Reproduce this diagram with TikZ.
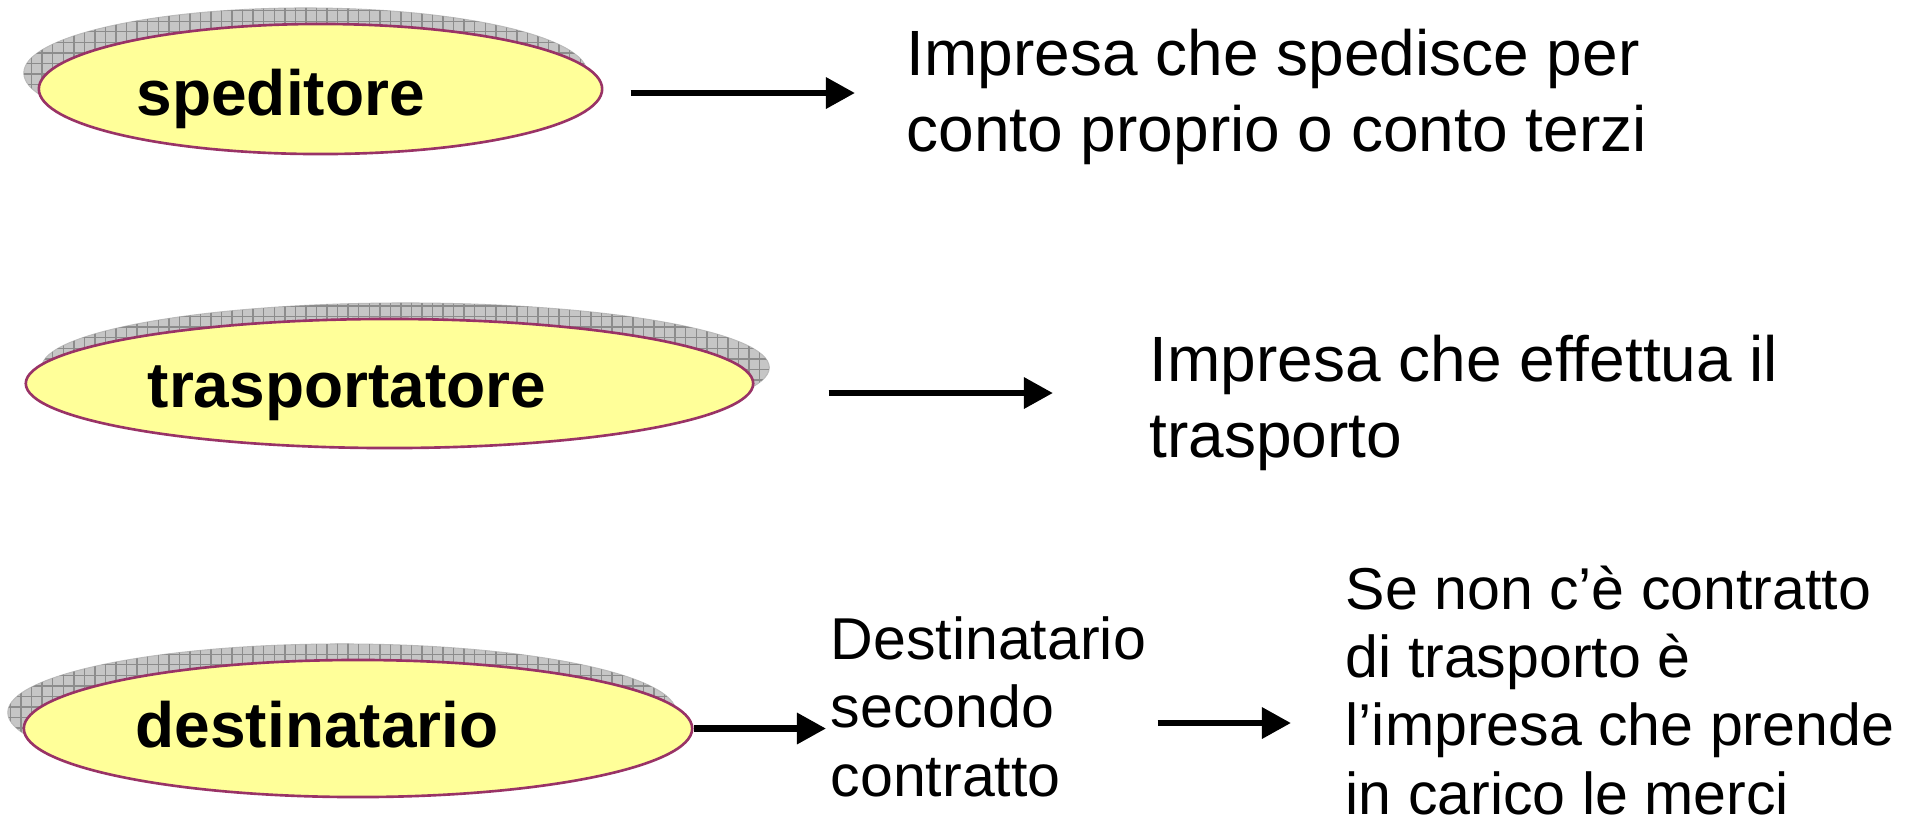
\documentclass[tikz,border=0pt]{standalone}
\usepackage{fontspec}
\setmainfont{Liberation Sans}
\usetikzlibrary{shapes.geometric,arrows.meta,patterns,calc}
\definecolor{ellfill}{HTML}{FFFF99}
\definecolor{elldraw}{HTML}{993366}
\definecolor{shfill}{HTML}{C6C6C6}
\definecolor{shgrid}{HTML}{8C8C8C}
\begin{document}
\begin{tikzpicture}[x=0.01cm,y=-0.01cm,
  ell/.style={ellipse, draw=elldraw, line width=0.75pt, fill=ellfill, inner sep=0pt},
  shad/.style={ellipse, fill=shfill, draw=shgrid!60, line width=0.3pt, inner sep=0pt,
    postaction={pattern=grid, pattern color=shgrid}},
  lab/.style={font=\fontsize{18.2pt}{21.6pt}\selectfont\bfseries, inner sep=0pt, anchor=base west},
  big/.style={font=\fontsize{18.2pt}{21.6pt}\selectfont, inner sep=0pt, anchor=base west, align=left},
  small/.style={font=\fontsize{16.8pt}{19.35pt}\selectfont, inner sep=0pt, anchor=base west, align=left},
  arr/.style={line width=1.8pt, -{Triangle[length=0.29cm,width=0.30cm]}}]
\path[use as bounding box] (0,0) rectangle (1906,823);
% speditore
\node[shad, minimum width=5.63cm, minimum height=1.30cm] (s1) at (305.5,73) {};
\node[ell, minimum width=5.63cm, minimum height=1.30cm] (sped) at (320.5,89) {};
\node[lab] (l1) at (136,115) {speditore};
% trasportatore
\node[shad, minimum width=7.27cm, minimum height=1.29cm] (s2) at (405.5,367.5) {};
\node[ell, minimum width=7.27cm, minimum height=1.29cm] (tras) at (389.5,383.5) {};
\node[lab] (l2) at (147,407) {trasportatore};
% destinatario
\node[shad, minimum width=6.68cm, minimum height=1.37cm] (s3) at (342,712.5) {};
\node[ell, minimum width=6.68cm, minimum height=1.37cm] (dest) at (358,728.5) {};
\node[lab] (l3) at (135,747) {destinatario};
% texts (anchor at the baseline of the last line)
\node[big] (t1) at (906,151) {Impresa che spedisce per\\conto proprio o conto terzi};
\node[big] (t2) at (1149,457) {Impresa che effettua il\\trasporto};
\node[small] (t3) at (830,796) {Destinatario\\secondo\\contratto};
\node[small] (t4) at (1345,814) {Se non c’è contratto\\di trasporto è\\l’impresa che prende\\in carico le merci};
% arrows
\draw[arr, shorten <=0.27cm, shorten >=0.51cm] ([yshift=-0.04cm]sped.east) -- ([yshift=-0.04cm]sped.east -| t1.west);
\draw[arr, shorten <=0.74cm, shorten >=0.96cm] ([yshift=-0.095cm]tras.east) -- ([yshift=-0.095cm]tras.east -| t2.west);
\draw[arr, shorten >=0.04cm] (dest.east) -- (dest.east -| t3.west);
\draw[arr, shorten <=0.11cm, shorten >=0.54cm] ($(t3.east |- dest.east)+(0,-5.5)$) -- ($(t4.west |- dest.east)+(0,-5.5)$);
\end{tikzpicture}
\end{document}
